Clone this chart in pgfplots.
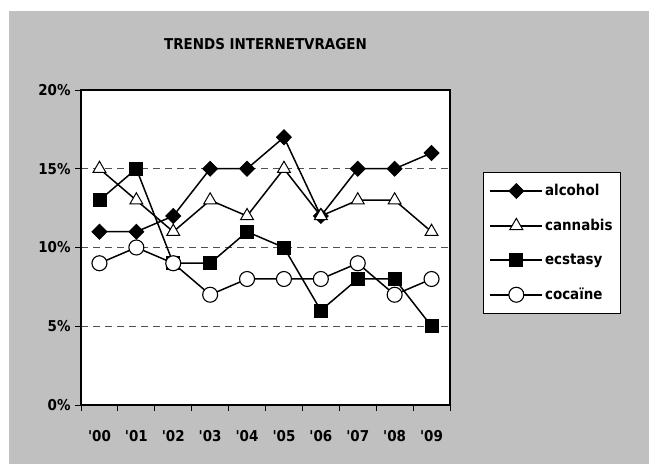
\documentclass[border=0pt]{standalone}
\usepackage{fontspec}
\setmainfont{DejaVu Sans Condensed}
\usepackage{pgfplots}
\pgfplotsset{compat=1.18}
\definecolor{bggrey}{HTML}{C0C0C0}
\definecolor{gridgrey}{HTML}{505050}

\pgfplotstableread{
x alcohol cannabis ecstasy cocaine
0 11 15 13 9
1 11 13 15 10
2 12 11 9 9
3 15 13 9 7
4 15 12 11 8
5 17 15 10 8
6 12 12 6 8
7 15 13 8 9
8 15 13 8 7
9 16 11 5 8
}\trends

\begin{document}
\begin{tikzpicture}
\fill[bggrey] (9bp,0bp) rectangle (649bp,453bp);
\begin{axis}[
    at={(81bp,59bp)}, anchor=south west,
    scale only axis,
    width=369bp, height=315bp,
    xmin=-0.5, xmax=9.5,
    ymin=0, ymax=20,
    axis background/.style={fill=white},
    axis line style={line width=1.6bp},
    ytick={0,5,10,15,20},
    yticklabels={0\%,5\%,10\%,15\%,20\%},
    yticklabel style={xshift=-1bp},
    xtick={-0.5,0.5,...,9.5},
    xticklabels={},
    extra x ticks={0,...,9},
    extra x tick labels={\textquotesingle00,\textquotesingle01,\textquotesingle02,\textquotesingle03,\textquotesingle04,\textquotesingle05,\textquotesingle06,\textquotesingle07,\textquotesingle08,\textquotesingle09},
    extra x tick style={major tick length=0pt, grid=none, xticklabel style={yshift=-22bp}},
    tick align=outside,
    tick pos=left,
    major tick length=6bp,
    tick style={line width=0.9bp, black},
    ymajorgrids,
    major grid style={dashed, gridgrey, line width=0.7bp, dash pattern=on 7bp off 5bp},
    ticklabel style={font=\bfseries\fontsize{15}{17}\selectfont},
    title={TRENDS INTERNETVRAGEN},
    title style={font=\bfseries\fontsize{15}{17}\selectfont, at={(0.5,1)}, anchor=base, yshift=35bp},
    legend style={at={(1.0894,0.7397)}, anchor=north west, draw=black, line width=1.2bp, fill=white,
        font=\bfseries\fontsize{15}{17}\selectfont, row sep=18bp, inner xsep=6bp, inner ysep=10bp},
    legend cell align=left,
    legend image code/.code={\draw[mark repeat=2,mark phase=2] plot coordinates {(0bp,0bp) (26bp,0bp) (52bp,0bp)};},
    every axis plot/.append style={black, line width=1.5bp},
]
\addplot[mark=diamond*, mark size=7.5bp, mark options={xscale=1.33, fill=black, line width=0.8bp}] table[x=x, y=alcohol] {\trends};
\addlegendentry{alcohol}
\addplot[mark=triangle*, mark size=7.5bp, mark options={fill=white, line width=1bp}] table[x=x, y=cannabis] {\trends};
\addlegendentry{cannabis}
\addplot[mark=square*, mark size=6.5bp, mark options={fill=black, line width=0.8bp}] table[x=x, y=ecstasy] {\trends};
\addlegendentry{ecstasy}
\addplot[mark=*, mark size=7.5bp, mark options={fill=white, line width=1.1bp}] table[x=x, y=cocaine] {\trends};
\addlegendentry{cocaïne}
\end{axis}
\pgfresetboundingbox
\path (0bp,0bp) rectangle (649bp,464bp);
\end{tikzpicture}
\end{document}
